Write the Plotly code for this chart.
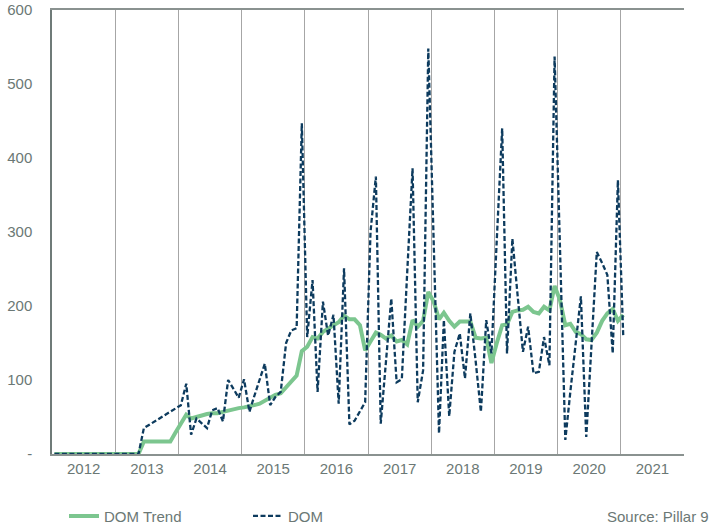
import plotly.graph_objects as go

# monthly observations, Jan 2012 - Jan 2021
months = [
    "2012-01", "2012-02", "2012-03", "2012-04", "2012-05", "2012-06",
    "2012-07", "2012-08", "2012-09", "2012-10", "2012-11", "2012-12",
    "2013-01", "2013-02", "2013-03", "2013-04", "2013-05", "2013-06",
    "2013-07", "2013-08", "2013-09", "2013-10", "2013-11", "2013-12",
    "2014-01", "2014-02", "2014-03", "2014-04", "2014-05", "2014-06",
    "2014-07", "2014-08", "2014-09", "2014-10", "2014-11", "2014-12",
    "2015-01", "2015-02", "2015-03", "2015-04", "2015-05", "2015-06",
    "2015-07", "2015-08", "2015-09", "2015-10", "2015-11", "2015-12",
    "2016-01", "2016-02", "2016-03", "2016-04", "2016-05", "2016-06",
    "2016-07", "2016-08", "2016-09", "2016-10", "2016-11", "2016-12",
    "2017-01", "2017-02", "2017-03", "2017-04", "2017-05", "2017-06",
    "2017-07", "2017-08", "2017-09", "2017-10", "2017-11", "2017-12",
    "2018-01", "2018-02", "2018-03", "2018-04", "2018-05", "2018-06",
    "2018-07", "2018-08", "2018-09", "2018-10", "2018-11", "2018-12",
    "2019-01", "2019-02", "2019-03", "2019-04", "2019-05", "2019-06",
    "2019-07", "2019-08", "2019-09", "2019-10", "2019-11", "2019-12",
    "2020-01", "2020-02", "2020-03", "2020-04", "2020-05", "2020-06",
    "2020-07", "2020-08", "2020-09", "2020-10", "2020-11", "2020-12",
    "2021-01",
]

dom = [
    0, 0, 0, 0, 0, 0, 0, 0, 0, 0, 0, 0,
    0, 0, 0, 0, 0, 35, None, None, None, None, None, None,
    66, 95, 26, 48, 42, 35, 59, 62, 44, 100, 88, 76,
    101, 57, 78, 100, 122, 66, 77, 84, 150, 167, 170, 447,
    158, 235, 84, 206, 160, 188, 68, 251, 40, 45, 57, 70,
    300, 375, 41, 125, 210, 97, 101, 245, 386, 70, 113, 548,
    290, 28, 181, 51, 138, 163, 102, 190, 125, 57, 181, 136,
    290, 440, 136, 291, 215, 138, 172, 109, 111, 158, 120, 537,
    280, 19, 84, 148, 213, 23, 148, 273, 258, 242, 136, 370,
    158,
]

dom_trend = [
    0, 0, 0, 0, 0, 0, 0, 0, 0, 0, 0, 0,
    0, 0, 0, 0, 0, 17, 17, 17, 17, 17, 17, 29,
    41, 53, 48, 50, 53, 54, 55, 55, 57, 59, 61, 62,
    63, 64, 66, 68, 72, 77, 80, 82, 90, 97, 106, 139,
    145, 158, 156, 165, 170, 174, 178, 187, 182, 182, 174, 140,
    152, 164, 161, 156, 160, 152, 154, 148, 181, 172, 180, 219,
    206, 182, 191, 180, 172, 179, 179, 179, 157, 156, 157, 123,
    150, 174, 175, 192, 194, 195, 199, 192, 190, 199, 194, 227,
    208, 174, 176, 165, 162, 155, 154, 164, 180, 190, 196, 180,
    188,
]

y_ticks = [0, 100, 200, 300, 400, 500, 600]
y_labels = ["-", "100", "200", "300", "400", "500", "600"]

FONT = "Liberation Sans, Arial, sans-serif"
GREY_TEXT = "#6b7875"

# plot monthly points at mid-month
dates = [m + "-15" for m in months]

fig = go.Figure()
fig.add_trace(go.Scatter(
    x=dates, y=dom_trend, name="DOM Trend", mode="lines",
    line=dict(color="#7cc68f", width=4),
))
fig.add_trace(go.Scatter(
    x=dates, y=dom, name="DOM", mode="lines", connectgaps=True,
    line=dict(color="#0d3b5e", width=2.3, dash="5px,2.5px"),
))

fig.add_annotation(
    text="Source: Pillar 9", xref="paper", yref="paper",
    x=1.043, y=-0.14, xanchor="right", yanchor="middle",
    showarrow=False, font=dict(size=15, color=GREY_TEXT, family=FONT),
)

fig.update_layout(
    width=714, height=529,
    paper_bgcolor="white", plot_bgcolor="white",
    margin=dict(l=52, r=30, t=10, b=75, autoexpand=False),
    font=dict(family=FONT, size=15, color=GREY_TEXT),
    xaxis=dict(
        type="date", automargin=False,
        range=["2012-01-01", "2022-01-01"],
        tick0="2012-01-01", dtick="M12",
        tickformat="%Y", ticklabelmode="period",
        showgrid=True, gridcolor="#a6a6a6", gridwidth=1.3,
        showline=True, linecolor="#8a9290", linewidth=2, mirror=True,
        ticks="", zeroline=False,
        tickfont=dict(size=15, color=GREY_TEXT),
    ),
    yaxis=dict(
        range=[0, 600], automargin=False,
        tickvals=y_ticks, ticktext=y_labels,
        showgrid=False, zeroline=False,
        showline=True, linecolor="#6f7b78", linewidth=1.5,
        ticks="", ticklabelstandoff=15,
        tickfont=dict(size=15, color=GREY_TEXT),
    ),
    legend=dict(
        orientation="h", x=0.019, y=-0.14,
        xanchor="left", yanchor="middle",
        entrywidth=139, entrywidthmode="pixels",
        font=dict(size=15, color=GREY_TEXT),
        bgcolor="rgba(0,0,0,0)",
    ),
)

# drop the browser's default body margin so the figure sits at (0, 0)
fig.write_html(
    "out.html",
    config={"displayModeBar": False},
    post_script="document.body.style.margin='0';",
)
